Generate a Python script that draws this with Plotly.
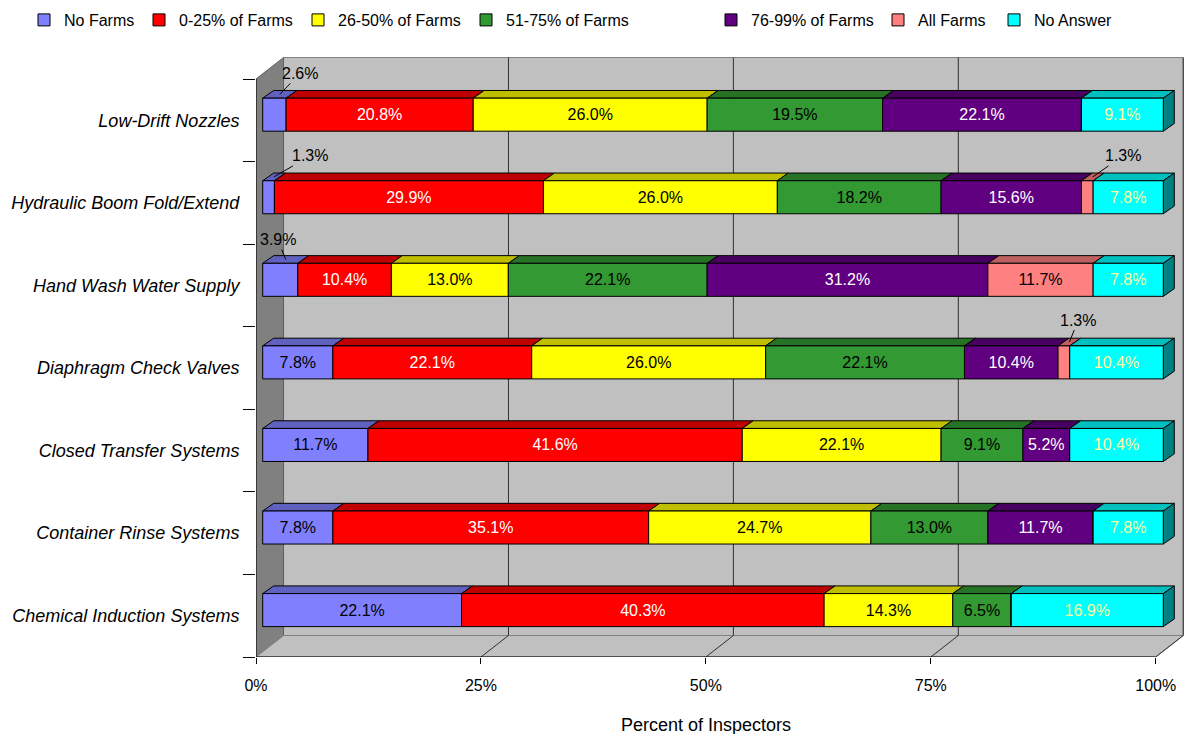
import plotly.graph_objects as go

# ---- data -------------------------------------------------------------
categories = [
    "Low-Drift Nozzles",
    "Hydraulic Boom Fold/Extend",
    "Hand Wash Water Supply",
    "Diaphragm Check Valves",
    "Closed Transfer Systems",
    "Container Rinse Systems",
    "Chemical Induction Systems",
]
series_names = ["No Farms", "0-25% of Farms", "26-50% of Farms", "51-75% of Farms",
                "76-99% of Farms", "All Farms", "No Answer"]

no_farms    = [2.6, 1.3, 3.9, 7.8, 11.7, 7.8, 22.1]
farms_0_25  = [20.8, 29.9, 10.4, 22.1, 41.6, 35.1, 40.3]
farms_26_50 = [26.0, 26.0, 13.0, 26.0, 22.1, 24.7, 14.3]
farms_51_75 = [19.5, 18.2, 22.1, 22.1, 9.1, 13.0, 6.5]
farms_76_99 = [22.1, 15.6, 31.2, 10.4, 5.2, 11.7, 0.0]
all_farms   = [0.0, 1.3, 11.7, 1.3, 0.0, 0.0, 0.0]
no_answer   = [9.1, 7.8, 7.8, 10.4, 10.4, 7.8, 16.9]

x_ticks = [0, 25, 50, 75, 100]
x_tick_labels = ["0%", "25%", "50%", "75%", "100%"]
x_title = "Percent of Inspectors"

series_values = [no_farms, farms_0_25, farms_26_50, farms_51_75,
                 farms_76_99, all_farms, no_answer]

# ---- styling ----------------------------------------------------------
fills = ["#8080ff", "#ff0000", "#ffff00", "#339933", "#600080", "#ff8080", "#00ffff"]
label_colors = ["black", "white", "black", "black", "white", "black", "#ffff99"]
FONT = "Liberation Sans, Arial, sans-serif"
# left edge (px) of each legend entry along the top row
legend_left_px = [24, 139, 298, 466, 711, 878, 994]


def shade(hex_color, k):
    h = hex_color.lstrip("#")
    r, g, b = (int(h[i:i + 2], 16) for i in (0, 2, 4))
    return "rgb(%d,%d,%d)" % (round(r * k), round(g * k), round(b * k))


# geometry of the pseudo-3D box (data units)
W, H = 1189, 734
ML, MR, MT, MB = 256, 2, 55, 77
PX_PER_PCT = 8.997
PX_PER_BAND = 82.57
x_max = (W - ML - MR) / PX_PER_PCT
y_max = (H - MT - MB) / PX_PER_BAND

n = len(categories)
DX, DY = 3.06, 0.26          # full depth of the box
BX, BY = 0.745, 0.068        # front face of the bars behind the front plane
SX, SY = 1.22, 0.093         # depth of the bars themselves
BAR_W = 0.40

band_centers = [n - i - 0.5 for i in range(n)]
bar_y = [c + BY for c in band_centers]

fig = go.Figure()
shapes = []

# walls and floor
shapes.append(dict(type="path", layer="below", xref="x", yref="y",
                   path=f"M {DX},{DY} L {100 + DX},{DY} L {100 + DX},{n + DY} L {DX},{n + DY} Z",
                   fillcolor="#c0c0c0", line=dict(color="#808080", width=1)))
shapes.append(dict(type="path", layer="below", xref="x", yref="y",
                   path=f"M 0,0 L {DX},{DY} L {DX},{n + DY} L 0,{n} Z",
                   fillcolor="#808080", line=dict(color="#606060", width=1)))
shapes.append(dict(type="path", layer="below", xref="x", yref="y",
                   path=f"M 0,0 L 100,0 L {100 + DX},{DY} L {DX},{DY} Z",
                   fillcolor="#c0c0c0", line=dict(color="#808080", width=1)))
for v in x_ticks[1:]:
    shapes.append(dict(type="line", layer="below", xref="x", yref="y",
                       x0=v + DX, x1=v + DX, y0=DY, y1=n + DY,
                       line=dict(color="#303030", width=1)))
    shapes.append(dict(type="line", layer="below", xref="x", yref="y",
                       x0=v, x1=v + DX, y0=0, y1=DY,
                       line=dict(color="#303030", width=1)))
# front axis lines
shapes.append(dict(type="line", layer="above", xref="x", yref="y",
                   x0=0, x1=100, y0=0, y1=0, line=dict(color="black", width=1)))
shapes.append(dict(type="line", layer="above", xref="x", yref="y",
                   x0=0, x1=0, y0=0, y1=n, line=dict(color="black", width=1)))

# bars: front faces as traces, top/side faces as shapes
legend_layout = {}
cum = [0.0] * n
bases_all = []
for s, (name, vals) in enumerate(zip(series_names, series_values)):
    bases = [BX + c for c in cum]
    bases_all.append(bases)
    texts = [f"{v:.1f}%" if v >= 5 else "" for v in vals]
    legend_id = "legend" if s == 0 else f"legend{s + 1}"
    legend_layout[legend_id] = dict(
        orientation="h", xref="container", yref="container",
        x=legend_left_px[s] / W, y=1 - 3 / H, xanchor="left", yanchor="top",
        font=dict(family=FONT, size=16, color="black"),
        bgcolor="rgba(0,0,0,0)", borderwidth=0)
    fig.add_trace(go.Bar(
        name=name, orientation="h", legend=legend_id,
        x=vals, y=bar_y, base=bases, width=BAR_W,
        marker=dict(color=fills[s], line=dict(color="black", width=1)),
        text=texts, textposition="inside", insidetextanchor="middle",
        textangle=0, constraintext="none",
        insidetextfont=dict(family=FONT, size=16, color=label_colors[s]),
        hoverinfo="skip",
    ))
    for i, v in enumerate(vals):
        if v <= 0:
            continue
        x0, x1 = bases[i], bases[i] + v
        yt = bar_y[i] + BAR_W / 2
        shapes.append(dict(type="path", layer="below", xref="x", yref="y",
                           path=f"M {x0},{yt} L {x1},{yt} L {x1 + SX},{yt + SY} L {x0 + SX},{yt + SY} Z",
                           fillcolor=shade(fills[s], 0.75), line=dict(color="black", width=1)))
    cum = [c + v for c, v in zip(cum, vals)]

# right-hand side face of each bar (last non-empty segment)
for i in range(n):
    last = max(s for s in range(len(series_values)) if series_values[s][i] > 0)
    x1 = BX + cum[i]
    yb, yt = bar_y[i] - BAR_W / 2, bar_y[i] + BAR_W / 2
    shapes.append(dict(type="path", layer="below", xref="x", yref="y",
                       path=f"M {x1},{yb} L {x1},{yt} L {x1 + SX},{yt + SY} L {x1 + SX},{yb + SY} Z",
                       fillcolor=shade(fills[last], 0.5), line=dict(color="black", width=1)))

# small segments get their label above the bar with a leader line
annotations = []
leader_offsets = {(0, 0): (20, -21), (0, 1): (36, -21), (0, 2): (-8, -20),
                  (5, 1): (30, -21), (5, 3): (9, -22)}
for s, vals in enumerate(series_values):
    for i, v in enumerate(vals):
        if 0 < v < 5:
            ax, ay = leader_offsets.get((s, i), (15, -20))
            annotations.append(dict(
                xref="x", yref="y",
                x=bases_all[s][i] + v / 2 + SX / 2, y=bar_y[i] + BAR_W / 2 + SY / 2,
                text=f"{v:.1f}%", showarrow=True, arrowhead=0, arrowwidth=1,
                arrowcolor="black", ax=ax, ay=ay, standoff=0,
                font=dict(family=FONT, size=16, color="black")))

annotations.append(dict(xref="x", yref="paper", x=50, y=-0.82 / y_max,
                        xanchor="center", yanchor="middle", text=x_title,
                        showarrow=False, font=dict(family=FONT, size=18, color="black")))

fig.update_layout(
    width=W, height=H,
    margin=dict(l=ML, r=MR, t=MT, b=MB, pad=0, autoexpand=False),
    paper_bgcolor="white", plot_bgcolor="white",
    barmode="overlay",
    shapes=shapes, annotations=annotations,
    font=dict(family=FONT, size=16, color="black"),
    showlegend=True,
    xaxis=dict(range=[0, x_max], showgrid=False, zeroline=False, showline=False,
               tickmode="array", tickvals=x_ticks, ticktext=x_tick_labels,
               ticks="outside", ticklen=6, tickcolor="black", ticklabelstandoff=8,
               tickfont=dict(family=FONT, size=16, color="black")),
    yaxis=dict(range=[0, y_max], showgrid=False, zeroline=False, showline=False,
               tickmode="array", tickvals=band_centers,
               ticktext=[f"<i>{c}</i>" for c in categories],
               ticks="outside", ticklen=12, tickcolor="rgba(0,0,0,0)",
               tickfont=dict(family=FONT, size=18, color="black"),
               minor=dict(tickmode="array", tickvals=list(range(n + 1)),
                          ticks="outside", ticklen=12, tickcolor="black", showgrid=False)),
    **legend_layout,
)

fig.write_html("out.html")
